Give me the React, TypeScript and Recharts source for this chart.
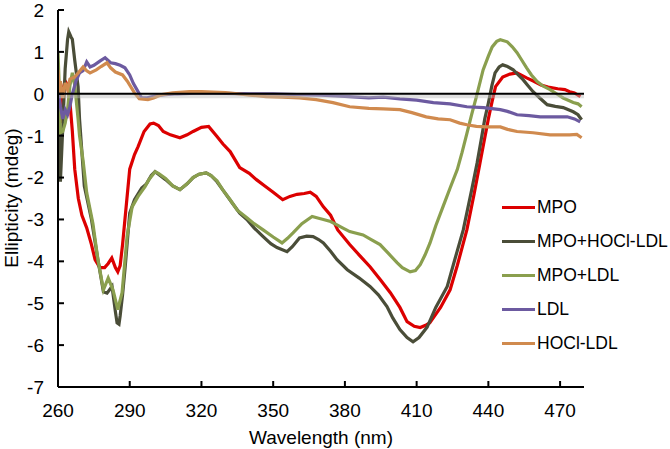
import React from 'react';
import {
  Legend,
  Line,
  LineChart,
  ReferenceLine,
  XAxis,
  YAxis,
} from 'recharts';

const FONT = '"Liberation Sans", Arial, sans-serif';

const X_TICKS = [260, 290, 320, 350, 380, 410, 440, 470];
const Y_TICKS = [-7, -6, -5, -4, -3, -2, -1, 0, 1, 2];

// [wavelength nm, ellipticity mdeg]
const MPO: [number, number][] = [
  [260, -0.2], [261, -0.7], [262, 0.1], [263, 0.3], [264, 0.2], [265, -0.2],
  [266, -0.9], [267, -1.8], [268.5, -2.5], [270, -2.9], [272, -3.2], [274, -3.6],
  [275.5, -3.96], [277.5, -4.15], [279.5, -4.15], [281, -4.05], [282.5, -3.92],
  [284, -4.15], [285, -4.25], [286, -4.1], [287, -3.6], [288, -3.0], [290, -1.8],
  [292, -1.45], [293.5, -1.26], [296, -0.9], [298.5, -0.72], [300, -0.7],
  [302, -0.76], [304, -0.9], [307, -0.98], [311, -1.05], [314, -0.98],
  [316.5, -0.9], [320, -0.8], [323, -0.78], [326.5, -1.02], [329, -1.2],
  [332, -1.38], [336, -1.76], [340, -1.9], [343, -2.05], [346.5, -2.2],
  [350, -2.35], [354, -2.53], [357, -2.45], [360, -2.4], [363, -2.38],
  [365.5, -2.35], [368, -2.45], [371, -2.7], [374, -2.9], [377, -3.25],
  [382, -3.6], [386, -3.85], [390.5, -4.13], [395, -4.45], [399, -4.75],
  [403, -5.1], [406, -5.44], [409, -5.55], [411.5, -5.58], [414, -5.52],
  [415.5, -5.47], [420, -5.1], [424, -4.68], [427, -4.1], [431, -3.25],
  [434, -2.4], [436.5, -1.65], [438, -1.2], [440, -0.6], [441.5, -0.2],
  [443, 0.17], [446, 0.4], [449, 0.47], [452, 0.5], [456, 0.38], [459, 0.3],
  [462, 0.21], [465, 0.16], [469, 0.12], [472, 0.1], [474, 0.05], [476, 0.02],
  [478.5, -0.07],
];

const MPO_HOCL_LDL: [number, number][] = [
  [260, 0.2], [260.5, -1.0], [261, -2.1], [262, -0.8], [263, 0.6], [264, 1.3],
  [264.5, 1.48], [265.5, 1.35], [266, 1.3], [267, 0.8], [268.4, 0.17], [269, -0.6],
  [270, -1.4], [271, -2.2], [272.5, -2.6], [274, -3.0], [276.7, -3.96], [279, -4.73],
  [280.5, -4.76], [282.6, -4.6], [284, -5.2], [284.7, -5.47], [285.5, -5.5],
  [286, -5.3], [287, -4.8], [288, -4.2], [290, -2.85], [292, -2.53], [295, -2.25],
  [297, -2.15], [299, -1.95], [300.6, -1.86], [302, -1.92], [305, -2.05],
  [308, -2.2], [311, -2.29], [314, -2.15], [316.5, -2.0], [319, -1.92],
  [322, -1.89], [324, -1.95], [326.5, -2.1], [329, -2.3], [332.8, -2.6],
  [336, -2.85], [339, -3.0], [342, -3.2], [345.8, -3.41], [349, -3.58],
  [351.6, -3.67], [355.8, -3.77], [358, -3.65], [361, -3.44], [364, -3.4],
  [366.7, -3.41], [369, -3.48], [371, -3.56], [374, -3.76], [376.7, -3.96],
  [381, -4.2], [386, -4.4], [390.5, -4.6], [394, -4.8], [397.6, -5.08],
  [400, -5.35], [403, -5.63], [406, -5.82], [408.5, -5.92], [411, -5.82],
  [414.4, -5.57], [418, -5.1], [422.8, -4.6], [426, -3.95], [429.5, -3.25],
  [433, -2.3], [435.3, -1.65], [437, -1.1], [438.5, -0.6], [440, -0.22],
  [441.5, 0.2], [442.8, 0.5], [444.5, 0.64], [446, 0.69], [448, 0.65],
  [450.4, 0.57], [452.5, 0.45], [454.6, 0.33], [456.5, 0.2], [458.7, 0.05],
  [461.5, -0.1], [464.6, -0.26], [468, -0.3], [471.3, -0.33], [475.5, -0.43],
  [477.5, -0.5], [479, -0.62],
];

const MPO_LDL: [number, number][] = [
  [260, 0.98], [260.5, 0.2], [261, -0.93], [262, -0.9], [263, -0.7], [264, -0.38],
  [265, 0.2], [266, 0.5], [267, 0.2], [268.4, -0.6], [269, -1.0], [270.5, -1.6],
  [272, -2.36], [274.6, -3.1], [276.7, -3.96], [279, -4.68], [281, -4.4],
  [283, -4.68], [285, -5.15], [286.8, -4.75], [288.9, -3.4], [291, -2.7],
  [293.5, -2.45], [296.4, -2.22], [298, -2.05], [300.6, -1.86], [302, -1.9],
  [305, -2.02], [308, -2.2], [311, -2.29], [314, -2.15], [316.5, -2.0],
  [319, -1.92], [322, -1.89], [324, -1.95], [326.5, -2.08], [329, -2.3],
  [332, -2.53], [335, -2.78], [339, -2.96], [342, -3.1], [345.8, -3.25],
  [350, -3.42], [353.7, -3.56], [356, -3.45], [358.3, -3.32], [362, -3.1],
  [366.3, -2.93], [369, -2.97], [371, -3.0], [374, -3.05], [376.7, -3.13],
  [379, -3.2], [382, -3.29], [387.6, -3.37], [391, -3.48], [394.7, -3.6],
  [398, -3.8], [401.8, -4.03], [404, -4.15], [407.3, -4.25], [409.5, -4.22],
  [411.5, -4.08], [413.5, -3.85], [415.6, -3.56], [418, -3.15], [421, -2.7],
  [424, -2.25], [427, -1.81], [429, -1.4], [431, -0.95], [433, -0.5],
  [435, -0.07], [437.8, 0.57], [440, 0.9], [441.6, 1.12], [443.5, 1.25],
  [445, 1.29], [447.9, 1.24], [450, 1.12], [452, 0.98], [454, 0.8], [456, 0.62],
  [458, 0.45], [460.4, 0.29], [463, 0.18], [465.8, 0.1], [468.5, 0.0],
  [471.3, -0.1], [475.5, -0.21], [477.5, -0.24], [479, -0.31],
];

const LDL: [number, number][] = [
  [260, 0.1], [261, -0.3], [262, -0.6], [263, -0.38], [264, -0.5], [265, -0.3],
  [266, 0.0], [267.5, 0.3], [269, 0.5], [270.5, 0.55], [272, 0.76], [273.4, 0.64],
  [275, 0.68], [277.5, 0.78], [279.7, 0.86], [282, 0.74], [284, 0.72], [286, 0.68],
  [288, 0.62], [290, 0.45], [291.5, 0.25], [293, 0.1], [295, -0.1], [297, -0.1],
  [299, -0.07], [302, -0.04], [305, -0.02], [310, 0.0], [320, 0.02], [330, 0.01],
  [340, 0.0], [350, 0.0], [360, -0.02], [370, -0.03], [380, -0.06], [390, -0.1],
  [396, -0.08], [403, -0.12], [410, -0.15], [417, -0.21], [424, -0.24],
  [431, -0.31], [438, -0.33], [445, -0.38], [448, -0.42], [452, -0.5],
  [457, -0.52], [461.7, -0.55], [467, -0.55], [473, -0.55], [476, -0.6],
  [478.4, -0.67],
];

const HOCL_LDL: [number, number][] = [
  [260, 0.57], [260.5, 0.0], [261, 0.3], [262, -0.1], [263, 0.26], [264, 0.1],
  [265, 0.35], [267, 0.4], [268.5, 0.5], [270.5, 0.64], [272, 0.55], [273.4, 0.5],
  [276, 0.57], [278, 0.65], [280.5, 0.74], [282, 0.62], [284, 0.52], [287, 0.45],
  [289, 0.3], [292, 0.02], [294, -0.12], [297.6, -0.14], [300, -0.1],
  [303.5, -0.02], [308, 0.02], [315, 0.05], [320, 0.05], [325, 0.04], [330, 0.03],
  [335, 0.0], [340, -0.03], [347, -0.07], [354, -0.08], [361, -0.1], [368, -0.14],
  [375, -0.21], [382, -0.31], [390, -0.35], [396, -0.36], [403, -0.38],
  [408, -0.45], [414, -0.55], [419, -0.6], [424, -0.62], [428, -0.7],
  [431, -0.74], [435, -0.78], [439.5, -0.79], [445, -0.79], [448, -0.85],
  [452, -0.9], [458.7, -0.93], [465.8, -0.98], [470, -0.98], [474, -0.98],
  [477, -0.97], [479, -1.05],
];

const SERIES = [
  { name: 'MPO', color: '#dc0000', data: MPO },
  { name: 'MPO+HOCl-LDL', color: '#4a4d38', data: MPO_HOCL_LDL },
  { name: 'MPO+LDL', color: '#8a9f4e', data: MPO_LDL },
  { name: 'LDL', color: '#6c5aa0', data: LDL },
  { name: 'HOCl-LDL', color: '#d08a4e', data: HOCL_LDL },
];

const toPoints = (arr: [number, number][]) => arr.map(([x, y]) => ({ x, y }));

function XTick({ x, y, payload }: any) {
  return (
    <g>
      <line x1={x} x2={x} y1={y} y2={y - 6} stroke='#000' strokeWidth={2} />
      <text x={x} y={y + 30} textAnchor='middle' fontSize={19} fontFamily={FONT} fill='#000'>
        {payload.value}
      </text>
    </g>
  );
}

function YTick({ x, y, payload }: any) {
  return (
    <g>
      <line x1={x} x2={x + 6} y1={y} y2={y} stroke='#000' strokeWidth={2} />
      <text x={x - 14} y={y} dy='0.36em' textAnchor='end' fontSize={19} fontFamily={FONT} fill='#000'>
        {payload.value}
      </text>
    </g>
  );
}

function LegendBox() {
  return (
    <div style={{ fontFamily: FONT, whiteSpace: 'nowrap' }}>
      {SERIES.map((s) => (
        <div key={s.name} style={{ display: 'flex', alignItems: 'center', height: 34 }}>
          <div style={{ width: 33, height: 3, background: s.color, flex: 'none' }} />
          <span style={{ fontSize: 17.5, color: '#000', marginLeft: 2 }}>{s.name}</span>
        </div>
      ))}
    </div>
  );
}

export default function App() {
  return (
    <div style={{ position: 'absolute', left: 0, top: 0, background: '#fff' }}>
      <LineChart width={670} height={449} margin={{ top: 10, right: 86, bottom: 0, left: 0 }}>
        <XAxis
          type='number'
          dataKey='x'
          domain={[260, 480]}
          ticks={X_TICKS}
          allowDataOverflow
          height={62}
          tickSize={0}
          tickMargin={0}
          tick={<XTick />}
          axisLine={{ stroke: '#000', strokeWidth: 2 }}
        />
        <YAxis
          type='number'
          domain={[-7, 2]}
          ticks={Y_TICKS}
          width={58}
          tickSize={0}
          tickMargin={0}
          tick={<YTick />}
          axisLine={{ stroke: '#000', strokeWidth: 2 }}
          label={{
            content: () => (
              <text
                x={18}
                y={198}
                transform='rotate(-90 18 198)'
                textAnchor='middle'
                fontSize={19}
                fontFamily={FONT}
                fill='#000'
              >
                Ellipticity (mdeg)
              </text>
            ),
          }}
        />
        {SERIES.map((s) => (
          <Line
            key={s.name}
            data={toPoints(s.data)}
            dataKey='y'
            name={s.name}
            type='linear'
            stroke={s.color}
            strokeWidth={3.2}
            dot={false}
            isAnimationActive={false}
          />
        ))}
        <ReferenceLine y={-0.06} stroke='#bbb' strokeWidth={4} strokeOpacity={0.45} />
        <ReferenceLine y={0} stroke='#000' strokeWidth={2} />
        <Legend
          layout='vertical'
          align='center'
          verticalAlign='middle'
          wrapperStyle={{ left: 502, top: 190, width: 168 }}
          content={() => <LegendBox />}
        />
        <text x={321} y={444} textAnchor='middle' fontSize={19} fontFamily={FONT} fill='#000'>
          Wavelength (nm)
        </text>
      </LineChart>
    </div>
  );
}
